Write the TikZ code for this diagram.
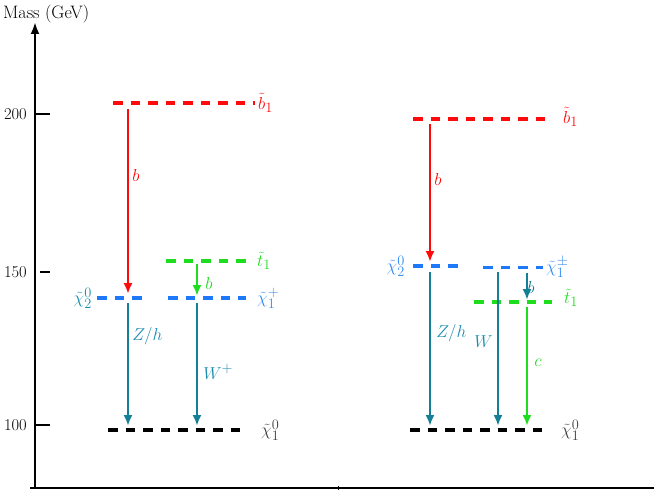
\documentclass[tikz,border=0pt]{standalone}
\usetikzlibrary{arrows.meta}
\definecolor{cred}{RGB}{255,10,10}
\definecolor{cgreen}{RGB}{30,220,30}
\definecolor{cblue}{RGB}{30,120,250}
\definecolor{cteal}{RGB}{20,128,150}
\definecolor{cteallab}{RGB}{25,140,175}
\definecolor{cbluelab}{RGB}{50,140,240}
\tikzset{
  level/.style={line width=3.8pt, dash pattern=on 9.5pt off 8pt},
  decay/.style={line width=2.6pt, -{Latex[length=11pt,width=9pt]}},
  lab/.style={font=\fontsize{19}{22}\selectfont, inner sep=3pt},
  ticklab/.style={font=\fontsize{16.5}{19}\selectfont, inner sep=2pt},
  axis/.style={line width=2.8pt},
}
\begin{document}
\begin{tikzpicture}[x=1pt,y=-1pt]
\useasboundingbox (0,0) rectangle (654,495);
% axes
\coordinate (o) at (35,488);
\coordinate (ytop) at (35,22);
\coordinate (xl) at (30,488);
\coordinate (xr) at (654,488);
\draw[axis,-{Latex[length=12pt,width=9pt]}] (o) -- (ytop);
\draw[axis] (xl) -- (xr);
\coordinate (mt1) at (338,486);
\coordinate (mt2) at (338,490);
\draw[line width=1pt] (mt1) -- (mt2);
\node[font=\fontsize{18}{21}\selectfont,inner sep=2pt,anchor=west] (mass) at (1,14) {Mass (GeV)};
% ticks
\coordinate (t200a) at (35,114); \coordinate (t200b) at (50,114);
\coordinate (t150a) at (40,272); \coordinate (t150b) at (50,272);
\coordinate (t100a) at (35,425); \coordinate (t100b) at (50,425);
\draw[axis] (t200a) -- (t200b);
\draw[axis] (t150a) -- (t150b);
\draw[axis] (t100a) -- (t100b);
\node[ticklab,anchor=east] (l200) at (29,114) {200};
\node[ticklab,anchor=east] (l150) at (29,272) {150};
\node[ticklab,anchor=east] (l100) at (29,425) {100};

% ===== left spectrum =====
\coordinate (Lb1a) at (113,103); \coordinate (Lb1b) at (255,103);
\draw[level,cred] (Lb1a) -- (Lb1b);
\node[lab,right,text=cred] (Lb1lab) at (Lb1b) {$\tilde b_1$};

\coordinate (Lt1a) at (166,261); \coordinate (Lt1b) at (246,261);
\draw[level,cgreen] (Lt1a) -- (Lt1b);
\node[lab,right,text=cgreen] (Lt1lab) at ([xshift=8pt]Lt1b) {$\tilde t_1$};

\coordinate (Lc2a) at (97,298); \coordinate (Lc2b) at (148,298);
\draw[level,cblue] (Lc2a) -- (Lc2b);
\node[lab,left,text=cteallab] (Lc2lab) at ([xshift=-2pt]Lc2a) {$\tilde\chi_2^0$};

\coordinate (Lc1a) at (168,298); \coordinate (Lc1b) at (246,298);
\draw[level,cblue] (Lc1a) -- (Lc1b);
\node[lab,right,text=cbluelab] (Lc1lab) at ([xshift=8pt]Lc1b) {$\tilde\chi_1^+$};

\coordinate (Ln1a) at (108,430); \coordinate (Ln1b) at (246,430);
\draw[level,black] (Ln1a) -- (Ln1b);
\node[lab,right,text=black!75] (Ln1lab) at ([xshift=12pt]Ln1b) {$\tilde\chi_1^0$};

\coordinate (La1s) at (128,109); \coordinate (La1e) at (128,294);
\draw[decay,cred] (La1s) -- node[lab,right,text=cred,pos=0.36] {$b$} (La1e);
\coordinate (La2s) at (197,264); \coordinate (La2e) at (197,296);
\draw[decay,cgreen] (La2s) -- node[lab,right,text=cgreen,xshift=4pt,pos=0.6] {$b$} (La2e);
\coordinate (La3s) at (128,303); \coordinate (La3e) at (128,426);
\draw[decay,cteal] (La3s) -- node[lab,right,text=cteallab,pos=0.27] {$Z/h$} (La3e);
\coordinate (La4s) at (197,303); \coordinate (La4e) at (197,426);
\draw[decay,cteal] (La4s) -- node[lab,right,text=cteallab,pos=0.56,xshift=2pt] {$W^+$} (La4e);

% ===== right spectrum =====
\coordinate (Rb1a) at (413,119); \coordinate (Rb1b) at (551,119);
\draw[level,cred] (Rb1a) -- (Rb1b);
\node[lab,right,text=cred] (Rb1lab) at ([xshift=9pt,yshift=2pt]Rb1b) {$\tilde b_1$};

\coordinate (Rc2a) at (413,266); \coordinate (Rc2b) at (460,266);
\draw[level,cblue] (Rc2a) -- (Rc2b);
\node[lab,left,text=cbluelab] (Rc2lab) at ([xshift=-5pt]Rc2a) {$\tilde\chi_2^0$};

\coordinate (Rc1a) at (483,267.5); \coordinate (Rc1b) at (543,267.5);
\draw[level,cblue] (Rc1a) -- (Rc1b);
\node[lab,right,text=cbluelab] (Rc1lab) at ([xshift=0pt]Rc1b) {$\tilde\chi_1^\pm$};

\coordinate (Rt1a) at (474,302); \coordinate (Rt1b) at (552,302);
\draw[level,cgreen] (Rt1a) -- (Rt1b);
\node[lab,right,text=cgreen] (Rt1lab) at ([xshift=9pt,yshift=4pt]Rt1b) {$\tilde t_1$};

\coordinate (Rn1a) at (410,430); \coordinate (Rn1b) at (546,430);
\draw[level,black] (Rn1a) -- (Rn1b);
\node[lab,right,text=black!75] (Rn1lab) at ([xshift=12pt]Rn1b) {$\tilde\chi_1^0$};

\coordinate (Ra1s) at (430,124); \coordinate (Ra1e) at (430,262);
\draw[decay,cred] (Ra1s) -- node[lab,right,text=cred,pos=0.4] {$b$} (Ra1e);
\coordinate (Ra2s) at (430,272); \coordinate (Ra2e) at (430,426);
\draw[decay,cteal] (Ra2s) -- node[lab,right,text=cteallab,pos=0.4,xshift=2pt] {$Z/h$} (Ra2e);
\coordinate (Ra3s) at (498,272); \coordinate (Ra3e) at (498,426);
\draw[decay,cteal] (Ra3s) -- node[lab,left,text=cteallab,pos=0.45,xshift=-1pt] {$W$} (Ra3e);
\coordinate (Ra4s) at (527,273); \coordinate (Ra4e) at (527,300);
\draw[decay,cteal] (Ra4s) -- node[lab,right,text=cteal,pos=0.55,xshift=-4pt] {$b$} (Ra4e);
\coordinate (Ra5s) at (527,307); \coordinate (Ra5e) at (527,426);
\draw[decay,cgreen] (Ra5s) -- node[lab,right,text=cgreen,pos=0.47,xshift=3pt] {$c$} (Ra5e);
\end{tikzpicture}
\end{document}
